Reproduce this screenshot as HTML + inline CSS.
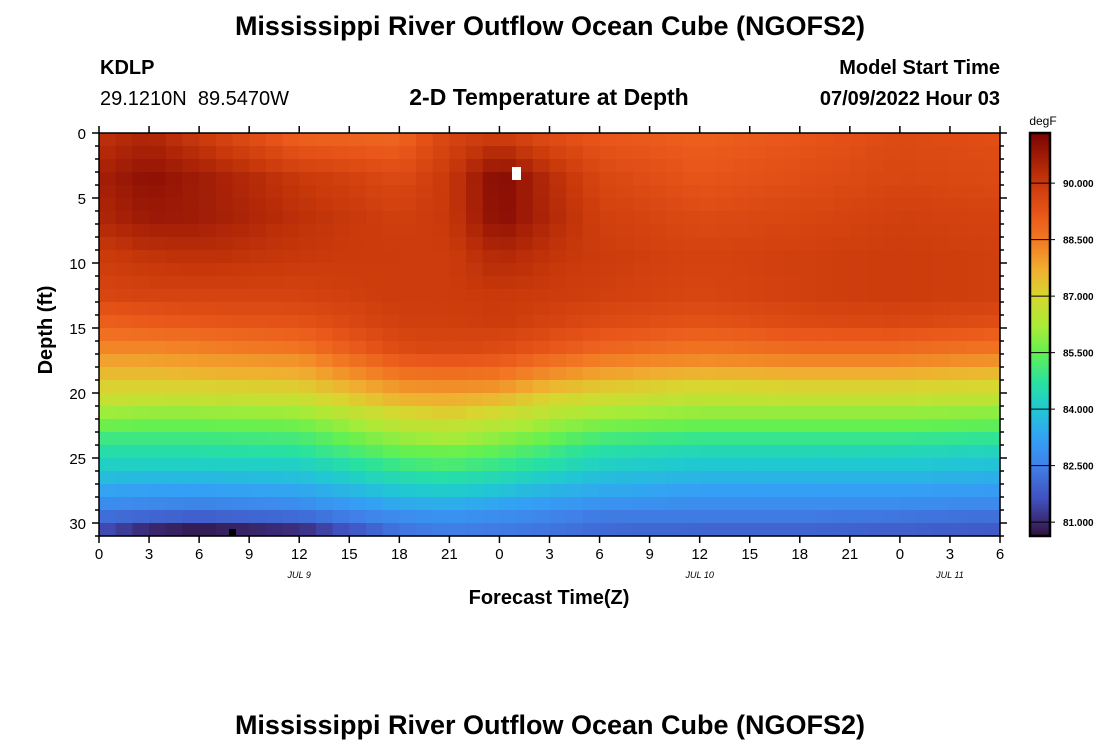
<!DOCTYPE html>
<html><head><meta charset="utf-8">
<style>
body{margin:0;background:#fff;width:1100px;height:750px;overflow:hidden;font-family:"Liberation Sans",Arial,sans-serif;}
svg text{font-family:"Liberation Sans",Arial,sans-serif;}
</style></head>
<body>
<svg id="chart" width="1100" height="750" xmlns="http://www.w3.org/2000/svg">
<text x="550" y="35" text-anchor="middle" font-size="27" font-weight="bold">Mississippi River Outflow Ocean Cube (NGOFS2)</text>
<text x="100" y="74" font-size="20" font-weight="bold">KDLP</text>
<text x="100" y="105" font-size="20">29.1210N&#160;&#160;89.5470W</text>
<text x="549" y="105" text-anchor="middle" font-size="23" font-weight="bold">2-D Temperature at Depth</text>
<text x="1000" y="74" text-anchor="end" font-size="20" font-weight="bold">Model Start Time</text>
<text x="1000" y="105" text-anchor="end" font-size="20" font-weight="bold">07/09/2022 Hour 03</text>
<g id="heat"></g>
<g id="axes"></g>
<text x="549" y="604" text-anchor="middle" font-size="20" font-weight="bold">Forecast Time(Z)</text>
<text transform="translate(52,330) rotate(-90)" text-anchor="middle" font-size="20" font-weight="bold">Depth (ft)</text>
<g id="cbar"></g>
<text x="1043" y="125" text-anchor="middle" font-size="12">degF</text>
<text x="550" y="734" text-anchor="middle" font-size="27" font-weight="bold">Mississippi River Outflow Ocean Cube (NGOFS2)</text>
</svg>
<script>
const times = [0,3,6,12,18,21,24,27,30,36,42,48,54];
const depths = [0,3,6,9,12,14,16,17,18,19,20,21,22,23,24,25,26,27,28,29,30];
const temps = [
 [90.2,90.6,90.4,89.9,89.6,89.0,88.3,87.9,87.5,87.1,86.7,86.1,85.6,85.0,84.6,84.2,83.8,83.3,82.8,82.2,81.6],
 [90.5,91.0,90.8,90.1,89.7,89.1,88.3,87.9,87.5,87.1,86.6,86.0,85.5,85.0,84.6,84.2,83.7,83.2,82.7,82.0,81.0],
 [90.0,90.7,90.7,90.2,89.7,89.2,88.4,88.0,87.6,87.1,86.6,86.0,85.5,85.0,84.6,84.2,83.7,83.2,82.6,81.9,80.8],
 [89.0,90.0,90.2,90.0,89.7,89.3,88.6,88.1,87.7,87.2,86.7,86.1,85.6,85.1,84.7,84.2,83.8,83.3,82.8,82.1,81.1],
 [88.9,89.5,89.8,89.9,89.9,89.8,89.5,89.1,88.6,88.1,87.6,87.0,86.5,86.0,85.5,85.0,84.5,84.0,83.4,82.8,82.3],
 [89.7,90.0,90.0,89.9,89.9,89.8,89.6,89.2,88.7,88.2,87.7,87.2,86.6,86.2,85.6,85.2,84.6,84.1,83.5,82.9,82.5],
 [90.0,91.2,91.1,90.4,90.0,89.9,89.5,89.1,88.6,88.1,87.5,86.9,86.4,85.9,85.4,84.9,84.4,83.9,83.3,82.8,82.4],
 [89.5,90.3,90.4,90.1,89.9,89.7,89.2,88.7,88.2,87.6,87.0,86.5,86.0,85.5,85.0,84.6,84.1,83.6,83.1,82.6,82.3],
 [89.2,89.6,89.8,89.9,89.8,89.5,88.9,88.4,87.9,87.3,86.8,86.2,85.7,85.1,84.6,84.2,83.8,83.4,82.9,82.4,82.1],
 [89.0,89.2,89.5,89.7,89.6,89.3,88.6,88.2,87.6,87.0,86.5,86.0,85.5,84.9,84.4,84.0,83.6,83.2,82.8,82.4,82.0],
 [89.2,89.4,89.6,89.8,89.8,89.5,88.8,88.3,87.7,87.1,86.6,86.0,85.5,84.9,84.4,84.0,83.6,83.2,82.8,82.4,82.0],
 [89.5,89.6,89.8,89.9,89.9,89.6,88.8,88.3,87.7,87.1,86.6,86.0,85.5,84.9,84.4,84.0,83.6,83.2,82.8,82.3,81.9],
 [89.4,89.5,89.7,89.8,89.8,89.4,88.6,88.1,87.5,87.0,86.5,85.9,85.4,84.8,84.3,83.9,83.5,83.1,82.7,82.2,81.8]
];
const xTickLabels = ["0","3","6","9","12","15","18","21","0","3","6","9","12","15","18","21","0","3","6"];
const yTickLabels = ["0","5","10","15","20","25","30"];
const cbTicks = [81.0,82.5,84.0,85.5,87.0,88.5,90.0];
const dayLabels = ["JUL 9","JUL 10","JUL 11"];
const dayLabelHours = [12,36,51];

const NS="http://www.w3.org/2000/svg";
const X0=99,X1=1000,Y0=133,Y1=536,TMAX=54,DMAX=31;
const xs=h=>X0+(X1-X0)*h/TMAX;
const ys=d=>Y0+(Y1-Y0)*d/DMAX;
const VMIN=80.63,VMAX=91.33, CB0=1030,CB1=1050;
const cy=v=>Y1-(Y1-Y0)*(v-VMIN)/(VMAX-VMIN);
const stops=[[80.63,[48,18,59]],[81.0,[58,40,112]],[81.6,[64,80,190]],[82.5,[64,128,232]],[83.2,[52,160,245]],[84.0,[32,200,210]],[84.7,[40,225,160]],[85.5,[100,240,80]],[86.2,[170,235,55]],[87.0,[215,215,48]],[87.7,[240,175,48]],[88.5,[242,120,35]],[89.2,[232,85,25]],[90.0,[200,56,10]],[90.7,[160,28,6]],[91.33,[122,4,3]]];
function col(v){
  if(v<=stops[0][0])return "rgb("+stops[0][1]+")";
  for(let i=1;i<stops.length;i++){ if(v<=stops[i][0]){const a=stops[i-1],b=stops[i],f=(v-a[0])/(b[0]-a[0]);
    return "rgb("+[0,1,2].map(k=>Math.round(a[1][k]+f*(b[1][k]-a[1][k]))).join(",")+")";}}
  return "rgb("+stops[stops.length-1][1]+")";
}
function mk(tag,attrs,parent){const e=document.createElementNS(NS,tag);for(const k in attrs)e.setAttribute(k,attrs[k]);parent.appendChild(e);return e;}
function seg(arr,v){if(v<=arr[0])return [0,0];for(let i=0;i<arr.length-1;i++){if(v<=arr[i+1])return [i,(v-arr[i])/(arr[i+1]-arr[i])];}return [arr.length-2,1];}
function val(h,d){const [i,fx]=seg(times,h),[j,fy]=seg(depths,d);
  const a=temps[i][j],b=temps[i+1][j],c=temps[i][j+1],e=temps[i+1][j+1];
  return (a*(1-fx)+b*fx)*(1-fy)+(c*(1-fx)+e*fx)*fy;}
const heat=document.getElementById('heat');
for(let h=0;h<TMAX;h++){for(let d=0;d<DMAX;d++){
  const r=mk('rect',{x:xs(h),y:ys(d),width:xs(h+1)-xs(h)+0.6,height:ys(d+1)-ys(d)+0.6,fill:col(val(h+0.5,d))},heat);
  
  
}}
const wm=mk('rect',{x:512,y:167,width:9,height:13,fill:'#fff'},heat);


const bm=mk('rect',{x:229,y:529,width:7,height:7,fill:'#000'},heat);



const ax=document.getElementById('axes');
mk('rect',{x:X0,y:Y0,width:X1-X0,height:Y1-Y0,fill:'none',stroke:'#000','stroke-width':1.5},ax);
xTickLabels.forEach((lab,i)=>{const h=i*3,x=xs(h);
  mk('line',{x1:x,y1:Y1,x2:x,y2:Y1+7,stroke:'#000','stroke-width':1.5},ax);
  mk('line',{x1:x,y1:Y0,x2:x,y2:Y0-7,stroke:'#000','stroke-width':1.5},ax);
  const t=mk('text',{x:x,y:Y1+23,'text-anchor':'middle','font-size':15},ax);t.textContent=lab;
  
  
});
for(let d=0;d<=DMAX;d++){const y=ys(d),L=d%5==0?7:4;
  mk('line',{x1:X0,y1:y,x2:X0-L,y2:y,stroke:'#000','stroke-width':1.5},ax);
  mk('line',{x1:X1,y1:y,x2:X1+L,y2:y,stroke:'#000','stroke-width':1.5},ax);
}
yTickLabels.forEach((lab,i)=>{const t=mk('text',{x:86,y:ys(i*5)+6,'text-anchor':'end','font-size':15},ax);t.textContent=lab;
  
  
});
dayLabels.forEach((lab,i)=>{const t=mk('text',{x:xs(dayLabelHours[i]),y:578,'text-anchor':'middle','font-size':9,'font-style':'italic','font-family':'Liberation Serif, serif'},ax);t.textContent=lab;
  
  
});

const cb=document.getElementById('cbar');
for(let y=Y0;y<Y1;y++){mk('rect',{x:CB0,y:y,width:CB1-CB0,height:1.5,fill:col(VMIN+(VMAX-VMIN)*(Y1-y-0.5)/(Y1-Y0))},cb);}
mk('rect',{x:CB0,y:Y0,width:CB1-CB0,height:Y1-Y0,fill:'none',stroke:'#000','stroke-width':2.5},cb);
cbTicks.forEach(v=>{const y=cy(v);
  mk('line',{x1:CB0,y1:y,x2:CB1+5,y2:y,stroke:'#000','stroke-width':1},cb);
  const t=mk('text',{x:1063,y:y+4,'font-size':10,'font-weight':'bold'},cb);t.textContent=v.toFixed(3);
  
  
});
</script>
</body></html>
